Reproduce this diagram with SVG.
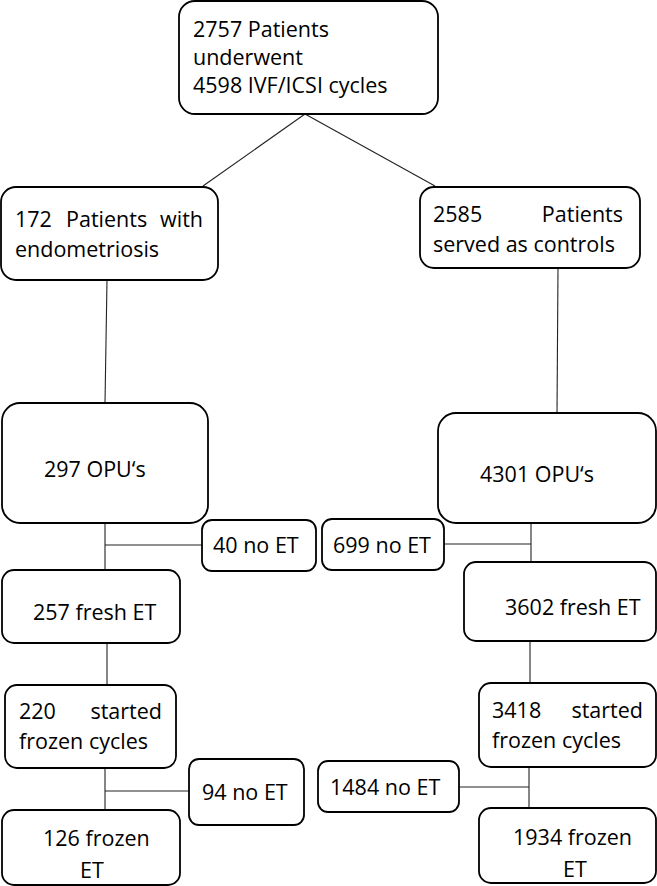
<svg xmlns="http://www.w3.org/2000/svg" width="657" height="886" viewBox="0 0 657 886">
<style>
.box{fill:#fff;stroke:#000;stroke-width:1.8}
.t{font-family:"Open Sans","Noto Sans","Liberation Sans",sans-serif;font-size:21.5px;fill:#000}
.e{text-anchor:end}
.c{stroke:#222;stroke-width:1.1;fill:none}
</style>
<rect width="657" height="886" fill="#fff"/>
<g id="connectors">
<line class="c" x1="305" y1="114" x2="203" y2="186"/>
<line class="c" x1="305" y1="114" x2="435" y2="186"/>
<line class="c" x1="107" y1="280" x2="105" y2="403"/>
<line class="c" x1="558" y1="268" x2="557" y2="413"/>
<line class="c" x1="105" y1="523" x2="105" y2="570"/>
<line class="c" x1="105" y1="545" x2="202" y2="545"/>
<line class="c" x1="531" y1="523" x2="531" y2="562"/>
<line class="c" x1="444" y1="544" x2="531" y2="544"/>
<line class="c" x1="107" y1="643" x2="107" y2="685"/>
<line class="c" x1="530" y1="641" x2="530" y2="683"/>
<line class="c" x1="105" y1="768" x2="105" y2="810"/>
<line class="c" x1="105" y1="791" x2="189" y2="791"/>
<line class="c" x1="529" y1="767" x2="529" y2="808"/>
<line class="c" x1="459" y1="787" x2="529" y2="787"/>
</g>
<g id="n_total">
<rect class="box" x="179" y="1" width="259" height="113" rx="16"/>
<text class="t" x="193" y="37">2757 Patients</text>
<text class="t" x="193" y="65">underwent</text>
<text class="t" x="193" y="93">4598 IVF/ICSI cycles</text>
</g>
<g id="n_endo">
<rect class="box" x="1" y="187" width="217" height="93" rx="15"/>
<text class="t" x="15" y="227">172</text>
<text class="t" x="66" y="227">Patients</text>
<text class="t e" x="203" y="227">with</text>
<text class="t" x="15" y="257">endometriosis</text>
</g>
<g id="n_ctrl">
<rect class="box" x="420" y="187" width="220" height="81" rx="14"/>
<text class="t" x="433" y="222">2585</text>
<text class="t e" x="623" y="222">Patients</text>
<text class="t" x="433" y="252">served as controls</text>
</g>
<g id="n_opu_l">
<rect class="box" x="2" y="403" width="206" height="120" rx="18"/>
<text class="t" x="44" y="477">297 OPU‘s</text>
</g>
<g id="n_opu_r">
<rect class="box" x="438" y="413" width="218" height="110" rx="18"/>
<text class="t" x="480" y="482">4301 OPU‘s</text>
</g>
<g id="n_noet40">
<rect class="box" x="202" y="520" width="114" height="51" rx="10"/>
<text class="t" x="213" y="553">40 no ET</text>
</g>
<g id="n_noet699">
<rect class="box" x="322" y="519" width="122" height="51" rx="10"/>
<text class="t" x="333" y="553">699 no ET</text>
</g>
<g id="n_fresh_l">
<rect class="box" x="2" y="570" width="178" height="73" rx="12"/>
<text class="t" x="33" y="620">257 fresh ET</text>
</g>
<g id="n_fresh_r">
<rect class="box" x="464" y="562" width="192" height="79" rx="12"/>
<text class="t" x="505" y="615">3602 fresh ET</text>
</g>
<g id="n_frozcyc_l">
<rect class="box" x="5" y="685" width="171" height="83" rx="12"/>
<text class="t" x="19" y="719">220</text>
<text class="t e" x="162" y="719">started</text>
<text class="t" x="19" y="749">frozen cycles</text>
</g>
<g id="n_frozcyc_r">
<rect class="box" x="479" y="683" width="177" height="84" rx="12"/>
<text class="t" x="492" y="718">3418</text>
<text class="t e" x="643" y="718">started</text>
<text class="t" x="492" y="748">frozen cycles</text>
</g>
<g id="n_noet94">
<rect class="box" x="189" y="759" width="115" height="66" rx="10"/>
<text class="t" x="202" y="800">94 no ET</text>
</g>
<g id="n_noet1484">
<rect class="box" x="318" y="761" width="141" height="51" rx="10"/>
<text class="t" x="330" y="795">1484 no ET</text>
</g>
<g id="n_frozet_l">
<rect class="box" x="2" y="810" width="178" height="75" rx="12"/>
<text class="t" x="43" y="846">126 frozen</text>
<text class="t" x="80" y="878">ET</text>
</g>
<g id="n_frozet_r">
<rect class="box" x="479" y="808" width="177" height="75" rx="12"/>
<text class="t" x="513" y="845">1934 frozen</text>
<text class="t" x="563" y="877">ET</text>
</g>
</svg>
